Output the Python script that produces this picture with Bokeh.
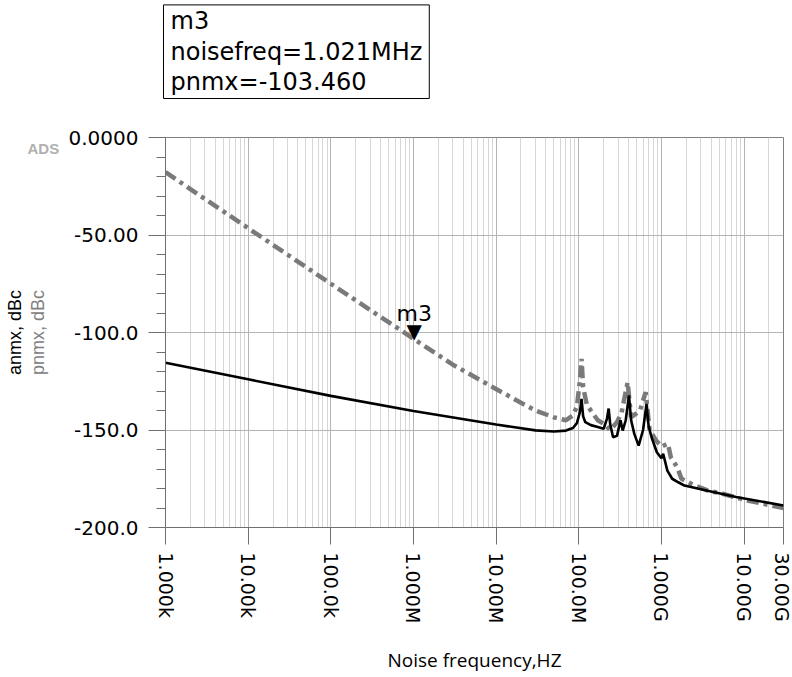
import math
from bokeh.plotting import figure
from bokeh.models import Range1d, FixedTicker, Label, ColumnDataSource, LinearAxis
from bokeh.core.properties import value
from bokeh.embed import file_html
from bokeh.resources import INLINE

# ---------------- data ----------------
anmx_freq = [1e3, 1e4, 1e5, 1e6, 1e7, 3e7, 5e7, 7e7, 8.5e7, 9.5e7, 1.03e8, 1.08e8, 1.13e8,
             1.2e8, 1.4e8, 1.7e8, 2.0e8, 2.2e8, 2.3e8, 2.4e8, 2.6e8, 2.9e8, 3.2e8, 3.4e8,
             3.7e8, 4.05e8, 4.3e8, 4.7e8, 5.3e8, 6.0e8, 6.6e8, 7.0e8, 7.6e8, 8.8e8, 1.0e9,
             1.05e9, 1.18e9, 1.35e9, 1.6e9, 1.9e9, 3.5e9, 8e9, 3e10]
anmx_dbc = [-115.5, -124.0, -132.5, -140.3, -147.2, -150.2, -150.8, -150.3, -149.0, -146.5,
            -141.0, -134.0, -143.0, -146.0, -147.5, -148.5, -149.4, -144.0, -139.0, -147.0,
            -153.7, -153.0, -145.0, -150.3, -145.0, -132.3, -145.0, -152.0, -158.0, -150.0,
            -136.6, -148.0, -153.7, -161.4, -164.5, -162.2, -170.8, -175.0, -176.8, -178.5,
            -181.0, -184.4, -188.7]

pnmx_freq = [1e3, 1e4, 1e5, 1e6, 3e6, 1e7, 2e7, 3e7, 5e7, 7e7, 8.5e7, 9.5e7, 1.03e8, 1.08e8,
             1.13e8, 1.25e8, 1.45e8, 1.7e8, 2.0e8, 2.4e8, 2.9e8, 3.3e8, 3.9e8, 4.3e8, 4.8e8,
             5.5e8, 6.45e8, 7.2e8, 8.5e8, 1.0e9, 1.2e9, 1.3e9, 1.55e9, 1.75e9, 2.3e9, 3.6e9,
             5.5e9, 1.1e10, 3e10]
pnmx_dbc = [-17.8, -46.5, -75.0, -103.2, -116.5, -129.0, -136.0, -140.0, -143.5, -145.0,
            -142.5, -138.0, -125.0, -113.5, -128.0, -137.0, -141.0, -145.0, -146.8, -150.0,
            -146.0, -141.0, -125.5, -143.4, -142.0, -140.0, -130.6, -150.0, -155.0, -158.5,
            -157.0, -164.0, -169.0, -175.0, -177.6, -181.0, -182.7, -186.2, -190.0]

marker_name = "m3"
marker_freq = 1.021e6
marker_value = -103.460

x_tick_values = [1e3, 1e4, 1e5, 1e6, 1e7, 1e8, 1e9, 1e10, 3e10]
x_tick_labels = ["1.000k", "10.00k", "100.0k", "1.000M", "10.00M", "100.0M",
                 "1.000G", "10.00G", "30.00G"]
x_minor_ticks = [m * 10 ** e for e in range(3, 11) for m in range(2, 10) if m * 10 ** e < 3e10]

y_tick_values = [0, -50, -100, -150, -200]
y_tick_labels = ["0.0000", "-50.00", "-100.0", "-150.0", "-200.0"]
y_minor_ticks = [-10 * i for i in range(1, 20) if i % 5 != 0]

# ---------------- figure ----------------
p = figure(width=792, height=677, x_axis_type="log",
           x_range=Range1d(1e3, 3e10), y_range=Range1d(-200, 0),
           output_backend="svg", toolbar_location=None,
           min_border_left=165, min_border_right=9, min_border_top=137, min_border_bottom=150)
p.background_fill_color = "white"
p.border_fill_color = "white"
p.outline_line_color = "#808080"
p.outline_line_width = 1

axis_color = "#707070"
# x axis
p.xaxis.ticker = FixedTicker(ticks=x_tick_values, minor_ticks=x_minor_ticks)
p.xaxis.major_label_overrides = {float(v): t for v, t in zip(x_tick_values, x_tick_labels)}
p.xaxis.major_label_orientation = -math.pi / 2
p.xaxis.major_label_text_font = "DejaVu Sans"
p.xaxis.major_label_text_font_size = "19px"
p.xaxis.major_label_text_color = "black"
p.xaxis.major_label_standoff = 8
p.xaxis.major_tick_out = 17
p.xaxis.major_tick_in = 0
p.xaxis.minor_tick_out = 0
p.xaxis.minor_tick_in = 0
p.xaxis.axis_line_color = axis_color
p.xaxis.major_tick_line_color = axis_color
p.xaxis.axis_label = "Noise frequency,HZ"
p.xaxis.axis_label_text_font = "Open Sans"
p.xaxis.axis_label_text_font_size = "19px"
p.xaxis.axis_label_text_font_style = "normal"
p.xaxis.axis_label_text_color = "black"
p.xaxis.axis_label_standoff = 21

# y axis (carries the grey pnmx label)
p.yaxis.ticker = FixedTicker(ticks=y_tick_values, minor_ticks=y_minor_ticks)
p.yaxis.major_label_overrides = {v: t for v, t in zip(y_tick_values, y_tick_labels)}
p.yaxis.major_label_text_font = "DejaVu Sans"
p.yaxis.major_label_text_font_size = "20px"
p.yaxis.major_label_text_color = "black"
p.yaxis.major_label_standoff = 10
p.yaxis.major_tick_out = 17
p.yaxis.major_tick_in = 0
p.yaxis.minor_tick_out = 9
p.yaxis.minor_tick_in = 0
p.yaxis.axis_line_color = axis_color
p.yaxis.major_tick_line_color = axis_color
p.yaxis.minor_tick_line_color = axis_color
p.yaxis.axis_label = "pnmx, dBc"
p.yaxis.axis_label_text_font = "Liberation Sans"
p.yaxis.axis_label_text_font_size = "18px"
p.yaxis.axis_label_text_font_style = "normal"
p.yaxis.axis_label_text_color = "#808080"
p.yaxis.axis_label_standoff = 18

# second, tick-less axis carrying the black anmx label
ax2 = LinearAxis(ticker=FixedTicker(ticks=[]), axis_line_color=None,
                 major_tick_out=0, major_tick_in=0, minor_tick_out=0, minor_tick_in=0,
                 major_label_standoff=0, major_label_text_font_size="0px",
                 axis_label="anmx, dBc", axis_label_text_font="Liberation Sans",
                 axis_label_text_font_size="18px", axis_label_text_font_style="normal",
                 axis_label_text_color="black", axis_label_standoff=0)
p.add_layout(ax2, "left")

# grids
p.xgrid.grid_line_color = "#b4b4b4"
p.xgrid.minor_grid_line_color = "#d6d6d6"
p.ygrid.grid_line_color = "#b4b4b4"
p.ygrid.minor_grid_line_color = None

# ---------------- series ----------------
src_p = ColumnDataSource(dict(f=pnmx_freq, v=pnmx_dbc))
src_a = ColumnDataSource(dict(f=anmx_freq, v=anmx_dbc))
p.line("f", "v", source=src_p, line_color="#7a7a7a", line_width=4.5,
       line_dash="12 5 4 5", line_cap="butt")
p.line("f", "v", source=src_a, line_color="black", line_width=2.6)

# marker m3
msrc = ColumnDataSource(dict(f=[marker_freq], v=[marker_value], tri=["\u25BC"], name=[marker_name]))
p.text("f", "v", text="tri", source=msrc, text_align="center", text_baseline="alphabetic",
       text_font=value("DejaVu Sans"), text_font_size="20px", text_color="black", y_offset=-8)
p.text("f", "v", text="name", source=msrc, text_align="center", text_baseline="alphabetic",
       text_font=value("DejaVu Sans"), text_font_size="22px", text_color="black", y_offset=-26)

# ---------------- texts outside the frame (side panels) ----------------
p.add_layout(Label(x=-138, y=-11, x_units="screen", y_units="screen", text="ADS",
                   text_align="left", text_baseline="middle", text_font="Liberation Sans",
                   text_font_style="bold", text_font_size="15px", text_color="#b0b0b0"), "above")
box_text = "%s\nnoisefreq=%.3fMHz\npnmx=%.3f" % (marker_name, marker_freq / 1e6, marker_value)
p.add_layout(Label(x=-2, y=22, x_units="screen", y_units="screen", text=box_text,
                   text_font="DejaVu Sans", text_font_size="24px", text_color="black",
                   text_align="left", text_baseline="bottom", text_line_height=1.1,
                   border_line_color="black", border_line_width=1,
                   background_fill_color="white", padding=(7, 2)), "above")

open("out.html", "w").write(file_html(p, INLINE))
